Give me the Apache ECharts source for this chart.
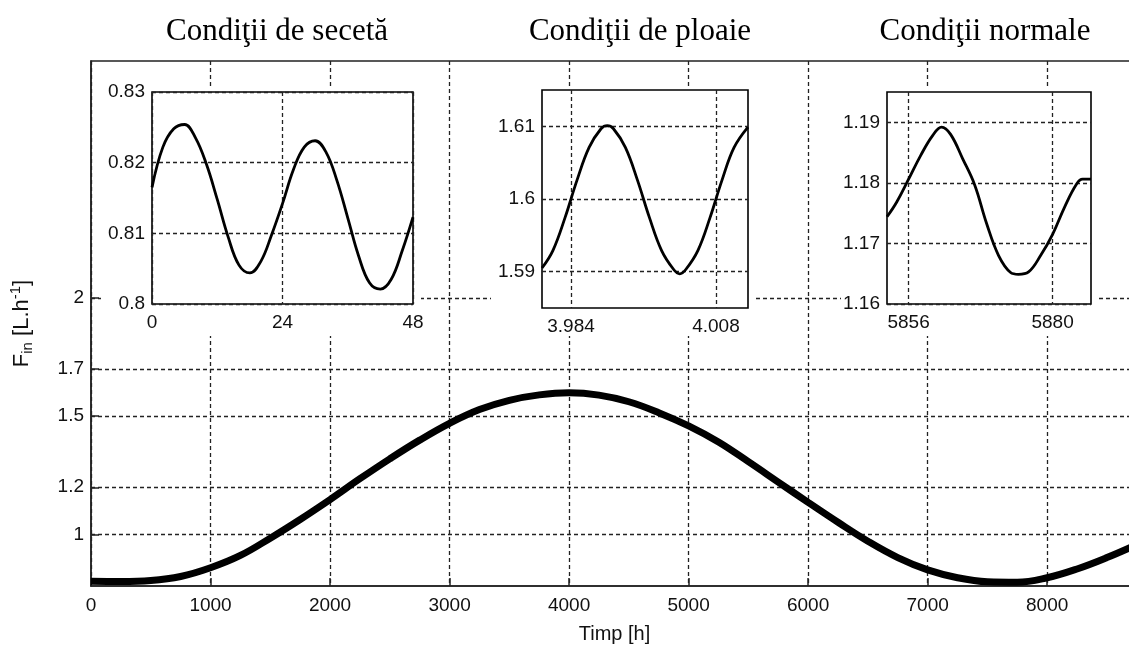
<!DOCTYPE html>
<html>
<head>
<meta charset="utf-8">
<script src="https://cdn.jsdelivr.net/npm/echarts@6/dist/echarts.min.js"></script>
<style>
  html, body { margin: 0; padding: 0; background: #fff; }
  #chart { width: 1129px; height: 647px; }
</style>
</head>
<body>
<div id="chart"></div>
<script>
// main curve: hours over a year, flow
const hours = [0, 250, 500, 750, 1000, 1250, 1500, 1750, 2000, 2250, 2500, 2750,
  3000, 3250, 3500, 3750, 4000, 4250, 4500, 4750, 5000, 5250, 5500, 5750,
  6000, 6250, 6500, 6750, 7000, 7250, 7500, 7750, 8000, 8250, 8500, 8760];
const flow = [0.803, 0.802, 0.806, 0.823, 0.860, 0.912, 0.985, 1.064, 1.148, 1.236, 1.320, 1.399,
  1.470, 1.528, 1.567, 1.590, 1.599, 1.589, 1.561, 1.515, 1.459, 1.391, 1.308, 1.222,
  1.136, 1.052, 0.972, 0.903, 0.851, 0.818, 0.801, 0.799, 0.818, 0.855, 0.903, 0.960];

// zoom 1: drought (first two days)
const dryHours = [0, 2, 4, 6, 8, 10, 12, 14, 16, 18, 20, 22, 24, 26, 28, 30, 32, 34, 36, 38, 40, 42, 44, 46, 48];
const dryFlow = [0.8165, 0.8222, 0.8248, 0.8254, 0.8235, 0.8198, 0.8148, 0.8095, 0.8055, 0.8044, 0.8060, 0.8098,
  0.8142, 0.8190, 0.8222, 0.8231, 0.8215, 0.8175, 0.8122, 0.8068, 0.8030, 0.8021, 0.8035, 0.8075, 0.8123];

// zoom 2: rain
const rainHours = [3979.2, 3981, 3983, 3985, 3987, 3989, 3990, 3991, 3993, 3995, 3997, 3999, 4001, 4002,
  4003, 4005, 4007, 4009, 4011, 4013.3];
const rainFlow = [1.5905, 1.5929, 1.5974, 1.6026, 1.6071, 1.6097, 1.6101, 1.6097, 1.6071, 1.6026, 1.5974, 1.5929,
  1.5903, 1.5897, 1.5903, 1.5929, 1.5974, 1.6026, 1.6071, 1.6099];

// zoom 3: normal
const normHours = [5852.4, 5854, 5856, 5858, 5860, 5861.5, 5863, 5865, 5867, 5869, 5871, 5873, 5874.3,
  5876, 5878, 5880, 5882, 5884, 5885, 5886.4];
const normFlow = [1.1744, 1.1768, 1.1806, 1.1845, 1.1878, 1.1892, 1.1880, 1.1840, 1.1797, 1.1733, 1.1680,
  1.1652, 1.1649, 1.1653, 1.1680, 1.1715, 1.1760, 1.1798, 1.1806, 1.1806];

const mainYTicks = [1, 1.2, 1.5, 1.7, 2];
const titles = ["Condiţii de secetă", "Condiţii de ploaie", "Condiţii normale"];

const sans = "Liberation Sans";
const dash = { color: "#222", type: [4, 3], width: 1.3 };
const lbl = { color: "#111", fontFamily: sans, fontSize: 19 };
const plain = v => String(+v.toFixed(3));

function pairs(xs, ys) {
  return xs.map((x, i) => [x, ys[i]]);
}

function insetAxes(idx, xo, yo) {
  return {
    x: Object.assign({
      type: "value", gridIndex: idx, z: 10,
      axisLine: { show: false }, axisTick: { show: false },
      splitLine: { show: true, lineStyle: dash },
    }, xo),
    y: Object.assign({
      type: "value", gridIndex: idx, z: 10,
      axisLine: { show: false }, axisTick: { show: false },
      splitLine: { show: true, lineStyle: dash },
    }, yo),
  };
}

const a1 = insetAxes(1,
  { min: 0, max: 48, interval: 24, axisLabel: Object.assign({ margin: 9, formatter: plain }, lbl) },
  { min: 0.8, max: 0.83, interval: 0.01, axisLabel: Object.assign({ margin: 7, formatter: plain }, lbl) });
const a2 = insetAxes(2,
  { min: 3979.2, max: 4013.3,
    axisTick: { show: false, customValues: [3984, 4008] },
    axisLabel: Object.assign({ margin: 9, customValues: [3984, 4008], formatter: v => (v / 1000).toFixed(3) }, lbl) },
  { min: 1.585, max: 1.615,
    axisTick: { show: false, customValues: [1.59, 1.6, 1.61] },
    axisLabel: Object.assign({ margin: 7, customValues: [1.59, 1.6, 1.61], formatter: plain }, lbl) });
const a3 = insetAxes(3,
  { min: 5852.4, max: 5886.4,
    axisTick: { show: false, customValues: [5856, 5880] },
    axisLabel: Object.assign({ margin: 9, customValues: [5856, 5880], formatter: plain }, lbl) },
  { min: 1.16, max: 1.195,
    axisTick: { show: false, customValues: [1.16, 1.17, 1.18, 1.19] },
    axisLabel: Object.assign({ margin: 7, customValues: [1.16, 1.17, 1.18, 1.19], formatter: v => v.toFixed(2) }, lbl) });

const insetGrid = { show: true, backgroundColor: "#fff", borderColor: "#000", borderWidth: 1.6, z: 10, outerBoundsMode: "none" };
const thin = { color: "#000", width: 2.8 };

const option = {
  animation: false,
  backgroundColor: "#fff",
  grid: [
    { left: 91, width: 1047, top: 61, bottom: 61, show: true, borderColor: "#222", borderWidth: 1.5, outerBoundsMode: "none" },
    Object.assign({ left: 152, right: 716, top: 92, bottom: 343 }, insetGrid),
    Object.assign({ left: 542, right: 381, top: 90, bottom: 339 }, insetGrid),
    Object.assign({ left: 887, right: 38, top: 92, bottom: 343 }, insetGrid),
  ],
  xAxis: [
    {
      type: "value", gridIndex: 0, min: 0, max: 8760, interval: 1000,
      name: "Timp [h]", nameLocation: "middle", nameGap: 38,
      nameTextStyle: { color: "#111", fontFamily: sans, fontSize: 20 },
      axisLine: { lineStyle: { color: "#222", width: 1.5 } },
      axisTick: { inside: true, length: 8, lineStyle: { color: "#222", width: 1.5 } },
      splitLine: { show: true, lineStyle: dash },
      axisLabel: Object.assign({ margin: 10, showMaxLabel: false, formatter: plain }, lbl),
    },
    a1.x, a2.x, a3.x,
  ],
  yAxis: [
    {
      type: "value", gridIndex: 0, min: 0.783, max: 3,
      name: "{a|F}{s|in}{a| [L.h}{p|-1}{a|]}",
      nameLocation: "middle", nameGap: 56,
      nameTextStyle: {
        rich: {
          a: { color: "#111", fontFamily: sans, fontSize: 22 },
          s: { color: "#111", fontFamily: sans, fontSize: 15, padding: [12, 0, 0, 0] },
          p: { color: "#111", fontFamily: sans, fontSize: 15, padding: [0, 0, 12, 0] },
        },
      },
      axisLine: { show: true, lineStyle: { color: "#222", width: 1.5 } },
      axisTick: { show: true, inside: true, length: 8, customValues: mainYTicks, lineStyle: { color: "#222", width: 1.5 } },
      splitLine: { show: true, lineStyle: dash },
      axisLabel: Object.assign({ margin: 7, customValues: mainYTicks, formatter: plain }, lbl),
    },
    a1.y, a2.y, a3.y,
  ],
  graphic: [
    { type: "rect", z: 5, shape: { x: 101, y: 86, width: 320, height: 250 }, style: { fill: "#fff" } },
    { type: "rect", z: 5, shape: { x: 491, y: 86, width: 265, height: 250 }, style: { fill: "#fff" } },
    { type: "rect", z: 5, shape: { x: 841, y: 86, width: 256, height: 250 }, style: { fill: "#fff" } },
    { type: "text", x: 277, y: 32, style: { text: titles[0], fill: "#000", font: "31px 'Liberation Serif'", textAlign: "center", textVerticalAlign: "middle" } },
    { type: "text", x: 640, y: 32, style: { text: titles[1], fill: "#000", font: "31px 'Liberation Serif'", textAlign: "center", textVerticalAlign: "middle" } },
    { type: "text", x: 985, y: 32, style: { text: titles[2], fill: "#000", font: "31px 'Liberation Serif'", textAlign: "center", textVerticalAlign: "middle" } },
  ],
  series: [
    {
      type: "line", xAxisIndex: 0, yAxisIndex: 0, data: pairs(hours, flow),
      showSymbol: false, smooth: 0.4, lineStyle: { color: "#000", width: 7 },
    },
    { type: "line", xAxisIndex: 1, yAxisIndex: 1, z: 12, data: pairs(dryHours, dryFlow), showSymbol: false, smooth: 0.4, lineStyle: thin },
    { type: "line", xAxisIndex: 2, yAxisIndex: 2, z: 12, data: pairs(rainHours, rainFlow), showSymbol: false, smooth: 0.4, lineStyle: thin },
    { type: "line", xAxisIndex: 3, yAxisIndex: 3, z: 12, data: pairs(normHours, normFlow), showSymbol: false, smooth: 0.4, lineStyle: thin },
  ],
};

const myChart = echarts.init(document.getElementById("chart"));
myChart.setOption(option);
</script>
</body>
</html>
